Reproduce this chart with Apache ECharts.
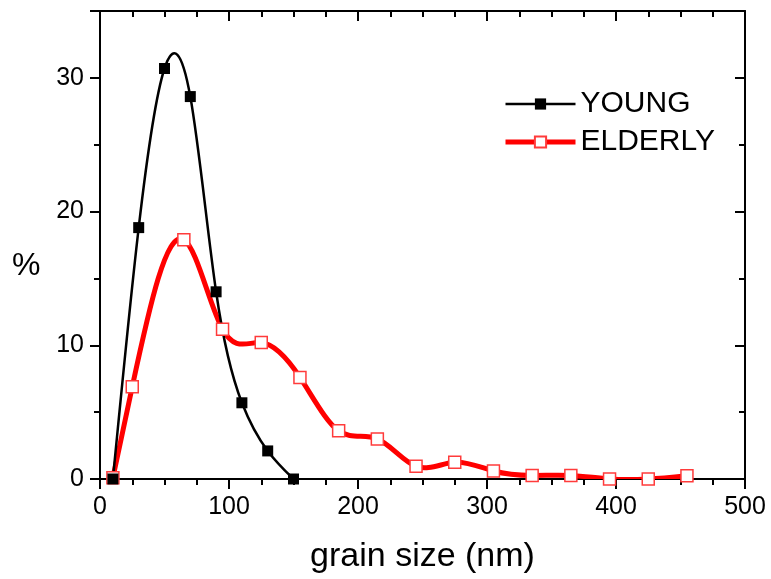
<!DOCTYPE html>
<html>
<head>
<meta charset="utf-8">
<script src="https://cdn.jsdelivr.net/npm/echarts@6/dist/echarts.min.js"></script>
<style>
    html, body { margin: 0; padding: 0; background: #fff; }
    #chart { width: 771px; height: 579px; }
</style>
</head>
<body>
<div id="chart"></div>
<script>
// grain size (nm) and percentage
const youngX = [10, 30, 50, 70, 90, 110, 130, 150];
const youngY = [0, 18.8, 30.7, 28.6, 14.0, 5.7, 2.1, 0];

const elderlyX = [10, 25, 65, 95, 125, 155, 185, 215, 245, 275, 305, 335, 365, 395, 425, 455];
const elderlyY = [0.1, 6.9, 17.9, 11.2, 10.2, 7.6, 3.6, 3.0, 0.95, 1.25, 0.6, 0.27, 0.27, 0, 0, 0.25];

const font = 'Liberation Sans, Arial, sans-serif';

function pairs(xs, ys) {
    return xs.map((x, i) => [x, ys[i]]);
}

// natural cubic spline through the points, returned as bezier segments (data space)
function splineSegments(xs, ys) {
    const n = xs.length;
    const h = [];
    for (let i = 0; i < n - 1; i++) h[i] = xs[i + 1] - xs[i];
    const M = new Array(n).fill(0);
    const b = [], c = [], d = [];
    for (let i = 1; i < n - 1; i++) {
        b[i] = 2 * (h[i - 1] + h[i]);
        c[i] = h[i];
        d[i] = 6 * ((ys[i + 1] - ys[i]) / h[i] - (ys[i] - ys[i - 1]) / h[i - 1]);
    }
    for (let i = 2; i < n - 1; i++) {
        const w = h[i - 1] / b[i - 1];
        b[i] -= w * c[i - 1];
        d[i] -= w * d[i - 1];
    }
    for (let i = n - 2; i >= 1; i--) {
        M[i] = (d[i] - (i < n - 2 ? c[i] * M[i + 1] : 0)) / b[i];
    }
    const segs = [];
    for (let i = 0; i < n - 1; i++) {
        const s = (ys[i + 1] - ys[i]) / h[i];
        const m0 = s - h[i] * (2 * M[i] + M[i + 1]) / 6;
        const m1 = s + h[i] * (M[i] + 2 * M[i + 1]) / 6;
        segs.push([
            [xs[i], ys[i]],
            [xs[i] + h[i] / 3, ys[i] + m0 * h[i] / 3],
            [xs[i + 1] - h[i] / 3, ys[i + 1] - m1 * h[i] / 3],
            [xs[i + 1], ys[i + 1]]
        ]);
    }
    return segs;
}

function curveSeries(name, xs, ys, color, width, z) {
    const segs = splineSegments(xs, ys);
    return {
        name: name,
        type: 'custom',
        clip: true,
        z: z,
        silent: true,
        data: pairs(xs, ys),
        encode: { x: 0, y: 1 },
        renderItem(params, api) {
            if (params.dataIndex !== 0) return;
            const children = segs.map(sg => {
                const p = sg.map(q => api.coord(q));
                return {
                    type: 'bezierCurve',
                    shape: {
                        x1: p[0][0], y1: p[0][1],
                        cpx1: p[1][0], cpy1: p[1][1],
                        cpx2: p[2][0], cpy2: p[2][1],
                        x2: p[3][0], y2: p[3][1]
                    },
                    style: { stroke: color, lineWidth: width, fill: null, lineCap: 'round' }
                };
            });
            return { type: 'group', children: children };
        }
    };
}

const chart = echarts.init(document.getElementById('chart'));

const axisLine = { show: true, onZero: false, lineStyle: { color: '#000', width: 2 } };
const tickStyle = { color: '#000', width: 2 };

let option = {
    animation: false,
    backgroundColor: '#fff',
    grid: { left: 100, right: 26, top: 11, bottom: 98 },
    graphic: [
        {
            type: 'text', left: 12, top: 250,
            style: { text: '%', fontFamily: font, fontSize: 32, fill: '#000' }
        }
    ],
    legend: {
        orient: 'vertical',
        left: 498,
        top: 84,
        itemWidth: 70,
        itemHeight: 14,
        itemGap: 8,
        textStyle: { fontFamily: font, fontSize: 30, color: '#000' },
        data: [
            { name: 'YOUNG', lineStyle: { color: '#000', width: 2.5, opacity: 1 } },
            { name: 'ELDERLY', lineStyle: { color: '#ff0000', width: 5, opacity: 1 } }
        ]
    },
    xAxis: [
        {
            type: 'value', position: 'bottom', min: 0, max: 500, interval: 100,
            axisLine: axisLine,
            axisTick: { show: true, length: 10, lineStyle: tickStyle },
            minorTick: { show: true, splitNumber: 4, length: 6, lineStyle: tickStyle },
            splitLine: { show: false },
            axisLabel: { margin: 16, fontFamily: font, fontSize: 25, color: '#000' },
            name: 'grain size (nm)', nameLocation: 'middle', nameGap: 61,
            nameTextStyle: { fontFamily: font, fontSize: 34, color: '#000' }
        },
        {
            type: 'value', position: 'top', min: 0, max: 500, interval: 100,
            axisLine: axisLine,
            axisTick: { show: true, inside: true, length: 10, lineStyle: tickStyle },
            minorTick: { show: true, splitNumber: 4, length: 6, lineStyle: tickStyle },
            splitLine: { show: false },
            axisLabel: { show: false }
        }
    ],
    yAxis: [
        {
            type: 'value', position: 'left', min: 0, max: 35, interval: 10,
            axisLine: axisLine,
            axisTick: { show: true, length: 10, lineStyle: tickStyle },
            minorTick: { show: true, splitNumber: 2, length: 6, lineStyle: tickStyle },
            splitLine: { show: false },
            axisLabel: { margin: 16, fontFamily: font, fontSize: 25, color: '#000',
                showMaxLabel: false,
                formatter: v => (v % 10 === 0 ? String(v) : '') }
        },
        {
            type: 'value', position: 'right', min: 0, max: 35, interval: 10,
            axisLine: axisLine,
            axisTick: { show: true, inside: true, length: 10, lineStyle: tickStyle },
            minorTick: { show: true, splitNumber: 2, length: 6, lineStyle: tickStyle },
            splitLine: { show: false },
            axisLabel: { show: false }
        }
    ],
    series: [
        curveSeries('young curve', youngX, youngY, '#000', 2.5, 2),
        curveSeries('elderly curve', elderlyX, elderlyY, '#ff0000', 5, 1),
        {
            name: 'YOUNG',
            type: 'line',
            data: pairs(youngX, youngY),
            symbol: 'rect',
            symbolSize: 11,
            itemStyle: { color: '#000', borderColor: '#000', borderWidth: 0 },
            lineStyle: { color: '#000', width: 2.5, opacity: 0 },
            z: 4
        },
        {
            name: 'ELDERLY',
            type: 'line',
            data: pairs(elderlyX, elderlyY),
            symbol: 'rect',
            symbolSize: 12,
            itemStyle: { color: '#fff', borderColor: '#ff3b3b', borderWidth: 1.5 },
            lineStyle: { color: '#ff0000', width: 5, opacity: 0 },
            z: 3
        }
    ]
};

chart.setOption(option);
</script>
</body>
</html>
